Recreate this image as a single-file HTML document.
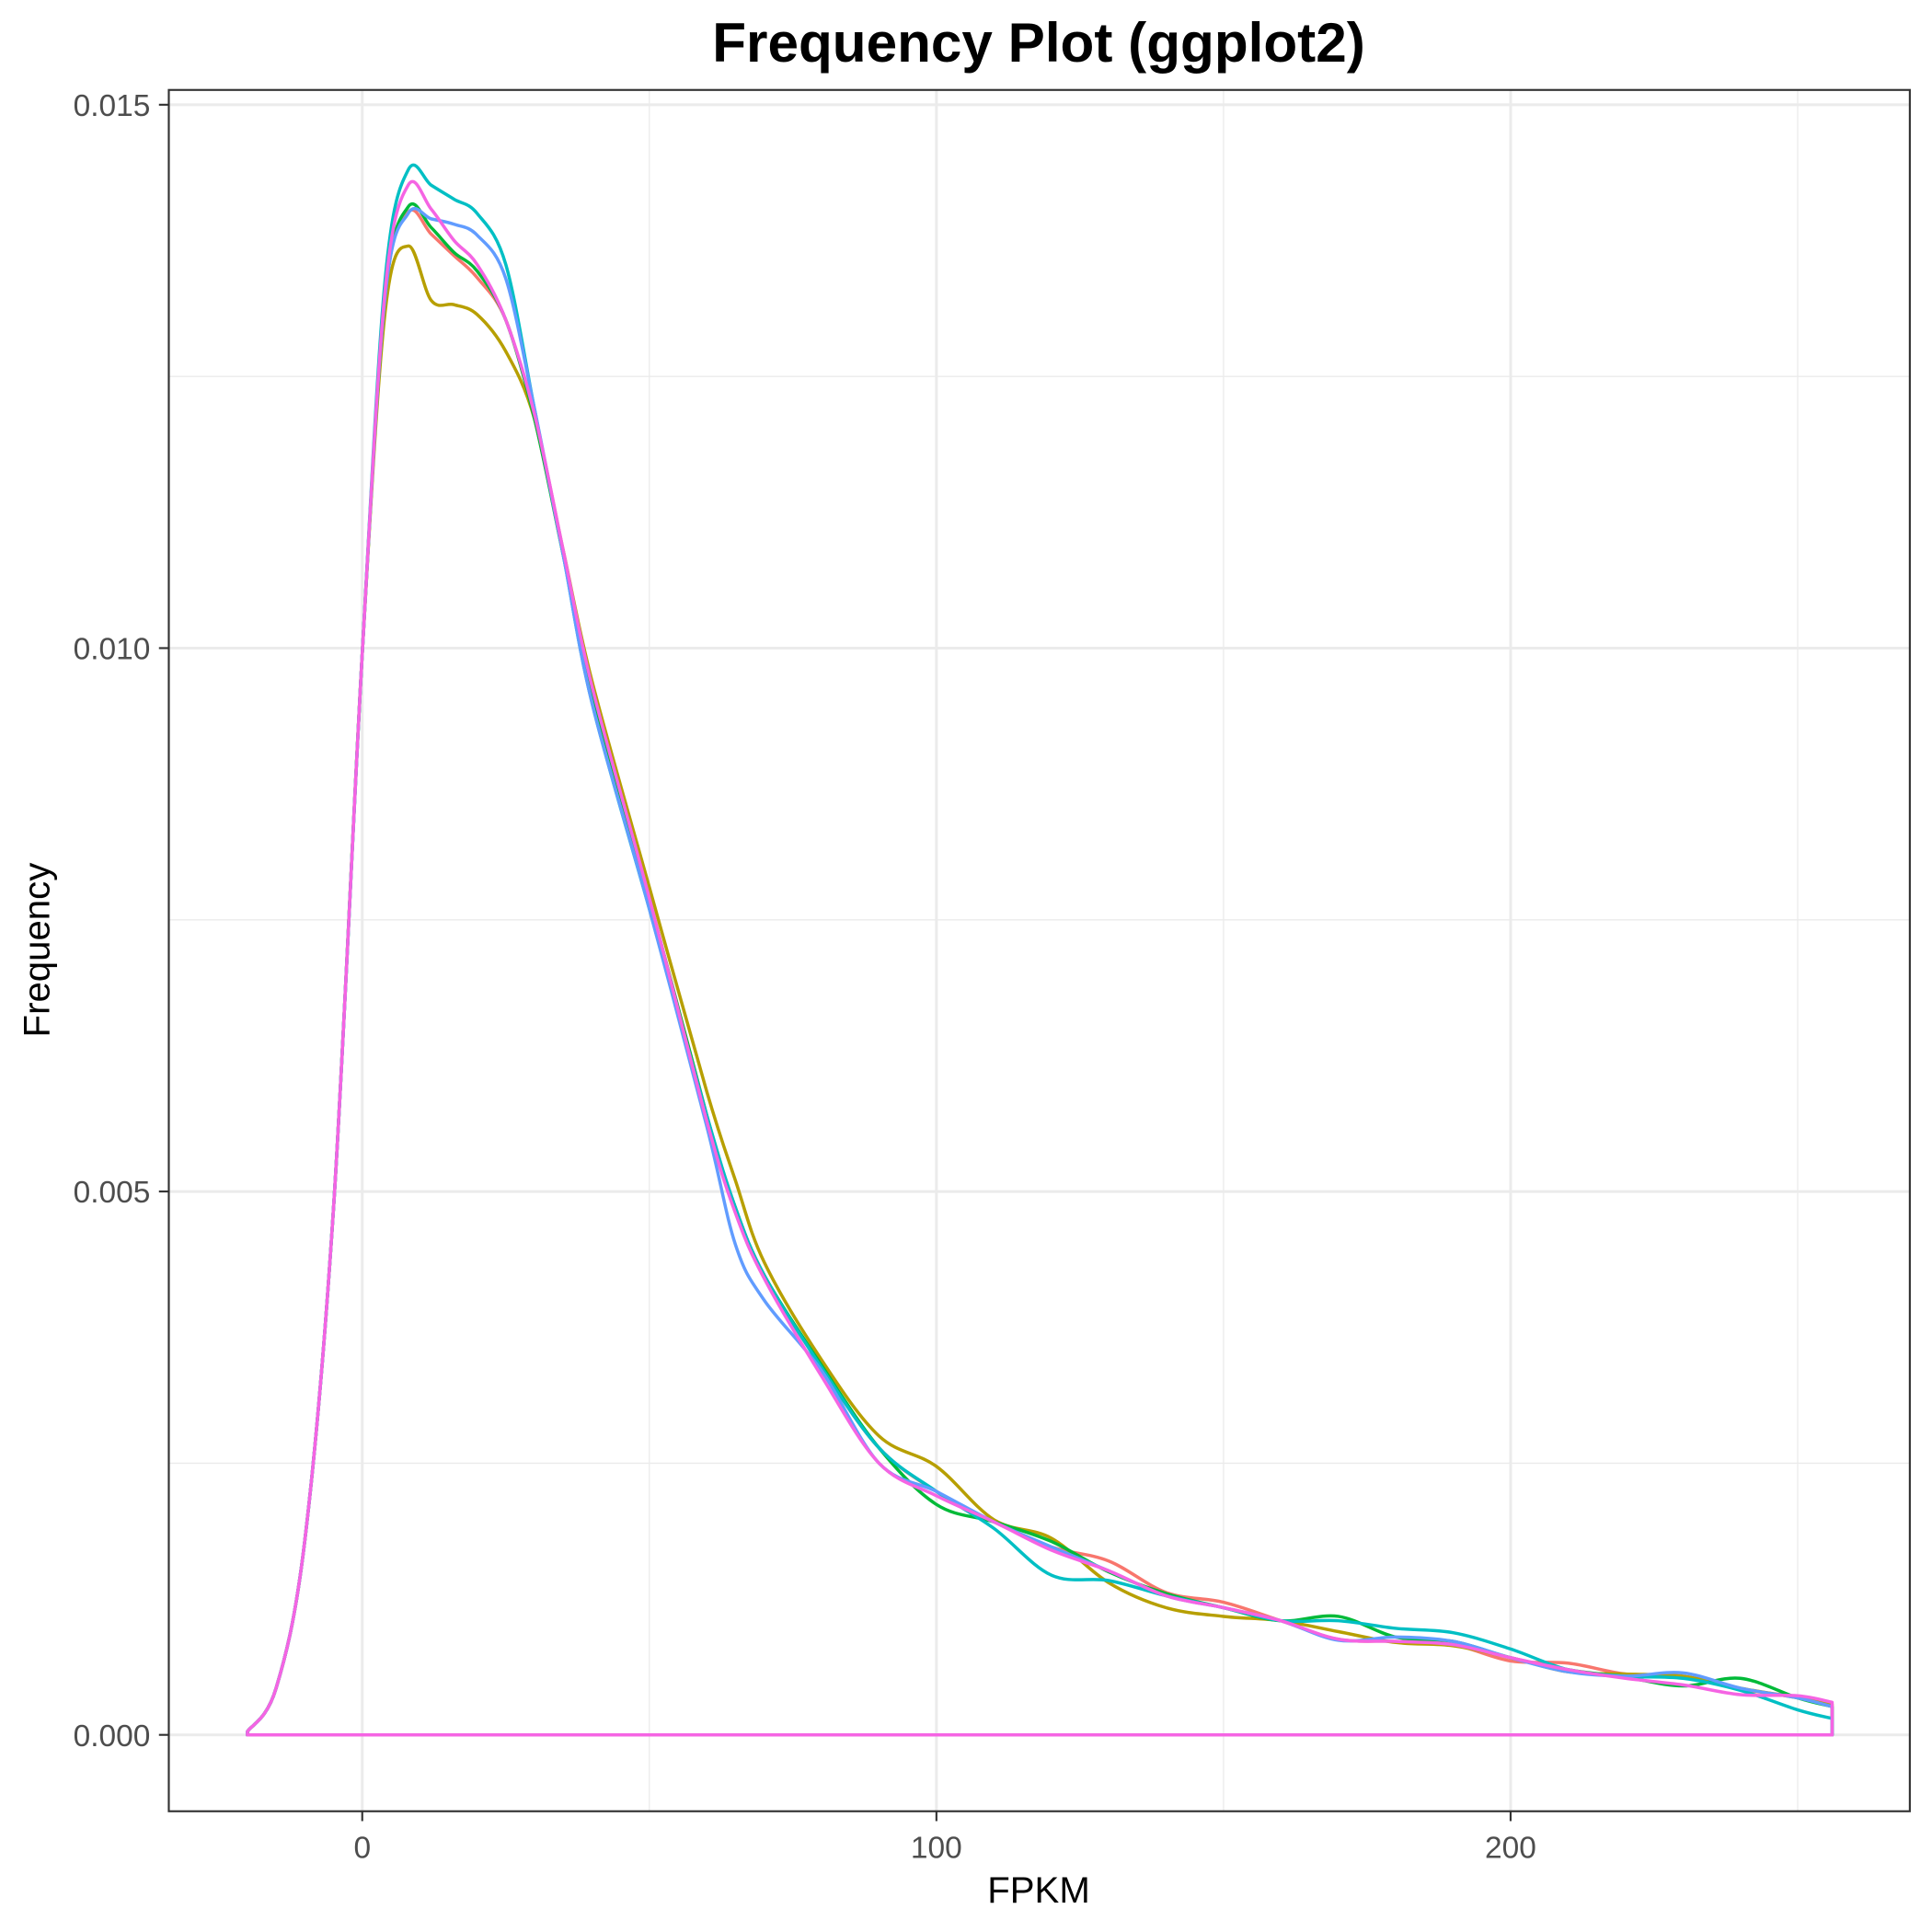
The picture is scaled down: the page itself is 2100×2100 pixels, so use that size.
<!DOCTYPE html>
<html><head><meta charset="utf-8"><style>
html,body{margin:0;padding:0;background:#fff;}
svg{display:block;}
text{font-family:"Liberation Sans",sans-serif;}
</style></head><body>
<svg id="chart" width="2100" height="2100" viewBox="0 0 1568 1568" xmlns="http://www.w3.org/2000/svg">
<rect width="1568" height="1568" fill="#fff"/>
<g id="grid"></g>
<g id="series"></g>
<rect x="137" y="73" width="1413" height="1397" fill="none" stroke="#333" stroke-width="1.6"/>
<g id="axes"></g>
<text x="843" y="50" text-anchor="middle" font-size="45" font-weight="bold" fill="#000">Frequency Plot (ggplot2)</text>
<text x="843" y="1544" text-anchor="middle" font-size="30" fill="#000">FPKM</text>
<text transform="translate(40,771) rotate(-90)" text-anchor="middle" font-size="30" fill="#000">Frequency</text>
</svg>
<script>
const xGrid=[-20,-15,-10,-5,0,4,8,12,16,20,25,30,35,40,50,60,65,70,80,90,100,110,120,130,140,150,160,170,180,190,200,210,220,230,240,250,256];
const seriesNames=["s1","s2","s3","s4","s5","s6"];
const seriesColors=["#F8766D","#B79F00","#00BA38","#00BFC4","#619CFF","#F564E3"];
// values in units of 0.001
const s1=[0.03,0.43,1.79,4.85,9.95,13.24,14.01,13.81,13.61,13.41,13.02,12.11,10.86,9.61,7.69,5.70,4.85,4.23,3.38,2.64,2.24,1.96,1.73,1.60,1.31,1.22,1.05,0.88,0.86,0.83,0.68,0.66,0.56,0.54,0.42,0.35,0.26];
const s2=[0.03,0.43,1.79,4.85,9.95,13.10,13.70,13.20,13.16,13.07,12.73,12.11,10.90,9.70,7.80,5.92,5.10,4.35,3.45,2.75,2.47,1.98,1.81,1.40,1.17,1.09,1.05,0.95,0.85,0.82,0.71,0.58,0.56,0.54,0.43,0.34,0.28];
const s3=[0.03,0.43,1.79,4.85,9.95,13.24,14.06,13.87,13.64,13.47,13.02,12.11,10.86,9.61,7.69,5.70,4.85,4.23,3.40,2.64,2.12,1.96,1.78,1.50,1.30,1.17,1.05,1.09,0.90,0.86,0.71,0.60,0.53,0.45,0.52,0.34,0.26];
const s4=[0.03,0.43,1.79,4.85,9.95,13.40,14.40,14.26,14.13,14.00,13.53,12.20,10.86,9.50,7.60,5.70,4.85,4.23,3.38,2.64,2.24,1.90,1.47,1.42,1.28,1.17,1.05,1.05,0.98,0.94,0.79,0.60,0.54,0.52,0.41,0.23,0.15];
const s5=[0.03,0.43,1.79,4.85,9.95,13.24,14.00,13.95,13.90,13.80,13.40,12.20,10.86,9.50,7.60,5.60,4.51,4.00,3.35,2.50,2.24,1.96,1.73,1.51,1.28,1.17,1.05,0.87,0.90,0.86,0.71,0.58,0.54,0.57,0.43,0.34,0.26];
const s6=[0.03,0.43,1.79,4.85,9.95,13.30,14.26,14.04,13.75,13.53,13.02,12.15,10.90,9.65,7.70,5.65,4.80,4.20,3.30,2.50,2.20,1.96,1.70,1.51,1.28,1.17,1.05,0.88,0.86,0.83,0.71,0.60,0.52,0.46,0.37,0.36,0.30];
const seriesValues=[s1,s2,s3,s4,s5,s6];
const xTicks=[0,100,200];
const xMinor=[50,150,250];
const yTicks=[0,0.005,0.010,0.015];
const yTickLabels=["0.000","0.005","0.010","0.015"];
const yMinor=[0.0025,0.0075,0.0125];

const NS="http://www.w3.org/2000/svg";
function xs(v){return 294+(v-0)*4.66;}
function ys(v){return 1408-v*88200;}
function mk(tag,attrs,parent){const e=document.createElementNS(NS,tag);for(const k in attrs)e.setAttribute(k,attrs[k]);parent.appendChild(e);return e;}
const grid=document.getElementById('grid'),axes=document.getElementById('axes'),sg=document.getElementById('series');
xMinor.forEach(v=>{const l=mk('line',{x1:xs(v),x2:xs(v),y1:73,y2:1470,stroke:'#ebebeb','stroke-width':1},grid);

});
yMinor.forEach(v=>{const l=mk('line',{x1:137,x2:1550,y1:ys(v),y2:ys(v),stroke:'#ebebeb','stroke-width':1},grid);

});
xTicks.forEach(v=>{const l=mk('line',{x1:xs(v),x2:xs(v),y1:73,y2:1470,stroke:'#ebebeb','stroke-width':2.2},grid);


const t=mk('line',{x1:xs(v),x2:xs(v),y1:1470,y2:1478,stroke:'#333','stroke-width':1.6},axes);


const tx=mk('text',{x:xs(v),y:1508,'text-anchor':'middle','font-size':25,fill:'#4d4d4d'},axes);tx.textContent=String(v);

});
yTicks.forEach((v,i)=>{const l=mk('line',{x1:137,x2:1550,y1:ys(v),y2:ys(v),stroke:'#ebebeb','stroke-width':2.2},grid);


const t=mk('line',{x1:129,x2:137,y1:ys(v),y2:ys(v),stroke:'#333','stroke-width':1.6},axes);


const tx=mk('text',{x:122,y:ys(v)+9,'text-anchor':'end','font-size':25,fill:'#4d4d4d'},axes);tx.textContent=yTickLabels[i];

});
function pathFor(vals){
  const pts=xGrid.map((x,i)=>[xs(x),ys(vals[i]/1000)]);
  let d='M'+xs(xGrid[0])+','+ys(0)+' L'+pts[0][0]+','+pts[0][1];
  for(let i=0;i<pts.length-1;i++){
    const p0=pts[Math.max(0,i-1)],p1=pts[i],p2=pts[i+1],p3=pts[Math.min(pts.length-1,i+2)];
    const c1=[p1[0]+(p2[0]-p0[0])/6,p1[1]+(p2[1]-p0[1])/6];
    const c2=[p2[0]-(p3[0]-p1[0])/6,p2[1]-(p3[1]-p1[1])/6];
    d+=' C'+c1[0]+','+c1[1]+' '+c2[0]+','+c2[1]+' '+p2[0]+','+p2[1];
  }
  d+=' L'+xs(xGrid[xGrid.length-1])+','+ys(0)+' Z';
  return d;
}
seriesValues.forEach((vals,i)=>{
  const p=mk('path',{d:pathFor(vals),fill:'none',stroke:seriesColors[i],'stroke-width':2.6,'stroke-linejoin':'round'},sg);
  
  
});
</script>
</body></html>
